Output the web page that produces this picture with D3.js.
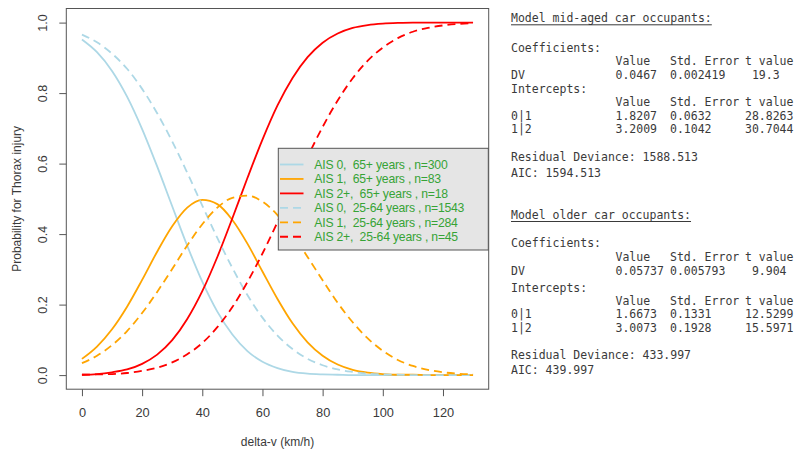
<!DOCTYPE html>
<html>
<head>
<meta charset="utf-8">
<script src="https://cdn.jsdelivr.net/npm/d3@7"></script>
<style>
  html, body { margin: 0; padding: 0; background: #fff; }
  svg { display: block; }
  text { white-space: pre; }
</style>
</head>
<body>
<svg id="chart" width="801" height="450"></svg>
<script>
// ---------- DATA ----------
const deltaV = [0,5,10,15,20,25,30,35,40,45,50,55,60,65,70,75,80,85,90,95,100,105,110,115,120,125,130];

const ais0_65 = [0.952,0.916,0.863,0.790,0.698,0.592,0.479,0.367,0.265,0.180,0.115,0.068,0.038,0.020,0.009,0.004,0.002,0.001,0,0,0,0,0,0,0,0,0];
const ais1_65 = [0.046,0.081,0.130,0.194,0.270,0.350,0.422,0.475,0.497,0.485,0.440,0.373,0.294,0.216,0.147,0.093,0.055,0.030,0.015,0.007,0.003,0.001,0.001,0,0,0,0];
const ais2_65 = [0.001,0.003,0.008,0.016,0.032,0.058,0.099,0.159,0.238,0.335,0.445,0.559,0.668,0.765,0.843,0.902,0.943,0.969,0.985,0.993,0.997,0.999,1.0,1.0,1.0,1.0,1.0];

const ais0_2564 = [0.966,0.944,0.912,0.869,0.812,0.743,0.663,0.574,0.481,0.389,0.304,0.227,0.163,0.112,0.074,0.046,0.028,0.016,0.009,0.004,0.002,0.001,0,0,0,0,0];
const ais1_2564 = [0.034,0.055,0.085,0.125,0.176,0.236,0.301,0.368,0.428,0.475,0.503,0.509,0.492,0.454,0.399,0.335,0.269,0.205,0.150,0.104,0.069,0.043,0.026,0.015,0.008,0.004,0.002];
const ais2_2564 = [0.001,0.002,0.003,0.006,0.012,0.021,0.036,0.059,0.091,0.136,0.193,0.264,0.345,0.434,0.527,0.619,0.704,0.779,0.842,0.892,0.929,0.956,0.974,0.985,0.992,0.996,0.998];

const seriesLabels = [
  "AIS 0,  65+ years , n=300",
  "AIS 1,  65+ years , n=83",
  "AIS 2+,  65+ years , n=18",
  "AIS 0,  25-64 years , n=1543",
  "AIS 1,  25-64 years , n=284",
  "AIS 2+,  25-64 years , n=45"
];
const seriesValues = [ais0_65, ais1_65, ais2_65, ais0_2564, ais1_2564, ais2_2564];
const seriesColors = ["#add8e6", "#ffa500", "#ff0000", "#add8e6", "#ffa500", "#ff0000"];
const seriesDashed = [false, false, false, true, true, true];

const xTicks = [0, 20, 40, 60, 80, 100, 120];
const yTicks = [0, 0.2, 0.4, 0.6, 0.8, 1.0];
const xTitle = "delta-v (km/h)";
const yTitle = "Probability for Thorax injury";

// model summary text
const midTitle = "Model mid-aged car occupants:";
const midRows = [
  ["Coefficients:"],
  ["", "Value", "Std. Error", "t value"],
  ["DV", "0.0467", "0.002419", " 19.3"],
  ["Intercepts:"],
  ["", "Value", "Std. Error", "t value"],
  ["0|1", "1.8207", "0.0632", "28.8263"],
  ["1|2", "3.2009", "0.1042", "30.7044"],
  ["Residual Deviance: 1588.513"],
  ["AIC: 1594.513"]
];
const oldTitle = "Model older car occupants:";
const oldRows = [
  ["Coefficients:"],
  ["", "Value", "Std. Error", "t value"],
  ["DV", "0.05737", "0.005793", " 9.904"],
  ["Intercepts:"],
  ["", "Value", "Std. Error", "t value"],
  ["0|1", "1.6673", "0.1331", "12.5299"],
  ["1|2", "3.0073", "0.1928", "15.5971"],
  ["Residual Deviance: 433.997"],
  ["AIC: 439.997"]
];

// ---------- LAYOUT ----------
const svg = d3.select("#chart");
svg.append("rect").attr("width", 801).attr("height", 450).attr("fill", "#fff");

const plot = { left: 66.3, right: 488.7, top: 8.5, bottom: 389.2 };
const x = d3.scaleLinear().domain([-5.2, 135.2]).range([plot.left, plot.right]);
const y = d3.scaleLinear().domain([-0.04, 1.04]).range([plot.bottom, plot.top]);

const axisColor = "#555";
const textColor = "#3a3a3a";
const sansFont = "'Liberation Sans', Arial, sans-serif";

// curves
const line = d3.line()
  .x((d, i) => x(deltaV[i]))
  .y(d => y(d))
  .curve(d3.curveMonotoneX);

seriesValues.forEach((vals, k) => {
  svg.append("path")
    .datum(vals)
    .attr("d", line)
    .attr("fill", "none")
    .attr("stroke", seriesColors[k])
    .attr("stroke-width", 1.8)
    .attr("stroke-dasharray", seriesDashed[k] ? "8,5" : null);
});

// box
svg.append("rect")
  .attr("x", plot.left).attr("y", plot.top)
  .attr("width", plot.right - plot.left).attr("height", plot.bottom - plot.top)
  .attr("fill", "none").attr("stroke", axisColor).attr("stroke-width", 1);

// x axis
const xAxis = d3.axisBottom(x).tickValues(xTicks).tickSize(7).tickFormat(d3.format("d"));
const gx = svg.append("g").attr("transform", `translate(0,${plot.bottom})`).call(xAxis);
gx.select(".domain").remove();
gx.selectAll(".tick line").attr("stroke", axisColor);
gx.selectAll(".tick text").attr("fill", textColor).attr("font-size", 12.8).attr("font-family", sansFont)
  .attr("dy", null).attr("y", 28);

// y axis (labels parallel to axis, like R)
const yAxis = d3.axisLeft(y).tickValues(yTicks).tickSize(7).tickFormat(d3.format(".1f"));
const gy = svg.append("g").attr("transform", `translate(${plot.left},0)`).call(yAxis);
gy.select(".domain").remove();
gy.selectAll(".tick line").attr("stroke", axisColor);
gy.selectAll(".tick text")
  .attr("fill", textColor).attr("font-size", 12.5).attr("font-family", sansFont)
  .attr("x", null).attr("dy", null)
  .attr("text-anchor", "middle")
  .attr("transform", "translate(-19,0) rotate(-90)");

// axis titles
svg.append("text")
  .attr("x", (plot.left + plot.right) / 2).attr("y", 446)
  .attr("text-anchor", "middle").attr("font-family", sansFont).attr("font-size", 12)
  .attr("fill", textColor).text(xTitle);
svg.append("text")
  .attr("transform", `translate(21,${(plot.top + plot.bottom) / 2}) rotate(-90)`)
  .attr("text-anchor", "middle").attr("font-family", sansFont).attr("font-size", 12)
  .attr("fill", textColor).text(yTitle);

// legend
const lg = { x: 278.3, y: 148.3, w: 210, h: 101.7 };
svg.append("rect").attr("x", lg.x).attr("y", lg.y).attr("width", lg.w).attr("height", lg.h)
  .attr("fill", "#e5e5e5").attr("stroke", "#555").attr("stroke-width", 1);
seriesLabels.forEach((lab, i) => {
  const cy = 164.5 + i * 14.45;
  svg.append("line").attr("x1", 280).attr("x2", 303.5).attr("y1", cy).attr("y2", cy)
    .attr("stroke", seriesColors[i]).attr("stroke-width", 1.8)
    .attr("stroke-dasharray", seriesDashed[i] ? "8,5" : null);
  svg.append("text").attr("x", 314.3).attr("y", cy + 4.4)
    .attr("font-family", sansFont).attr("font-size", 12.2)
    .attr("fill", "#36a336").attr("letter-spacing", -0.2)
    .text(lab);
});

// model text panels
const monoFont = "'DejaVu Sans Mono', 'Liberation Mono', monospace";
const monoSize = 11.5;
const cols = [511, 615.5, 670, 745];
function panel(title, rows, titleY, rowYs) {
  const t = svg.append("text").attr("x", cols[0]).attr("y", titleY + 4)
    .attr("font-family", monoFont).attr("font-size", monoSize).attr("fill", "#3a3a3a").text(title);
  const w = t.node().getComputedTextLength();
  svg.append("line").attr("x1", cols[0]).attr("x2", cols[0] + w)
    .attr("y1", titleY + 6.5).attr("y2", titleY + 6.5)
    .attr("stroke", "#3a3a3a").attr("stroke-width", 1);
  rows.forEach((r, i) => {
    r.forEach((cell, j) => {
      if (cell === "") return;
      svg.append("text").attr("x", cols[j]).attr("y", rowYs[i] + 4)
        .attr("font-family", monoFont).attr("font-size", monoSize).attr("fill", "#3a3a3a")
        .text(cell);
    });
  });
}
panel(midTitle, midRows, 18.3, [47.7, 61, 75, 89.3, 102.3, 115.5, 129.3, 156.7, 172.5]);
panel(oldTitle, oldRows, 215, [243.3, 257.3, 271, 287.7, 301, 314.3, 328.3, 355, 370]);
</script>
</body>
</html>
